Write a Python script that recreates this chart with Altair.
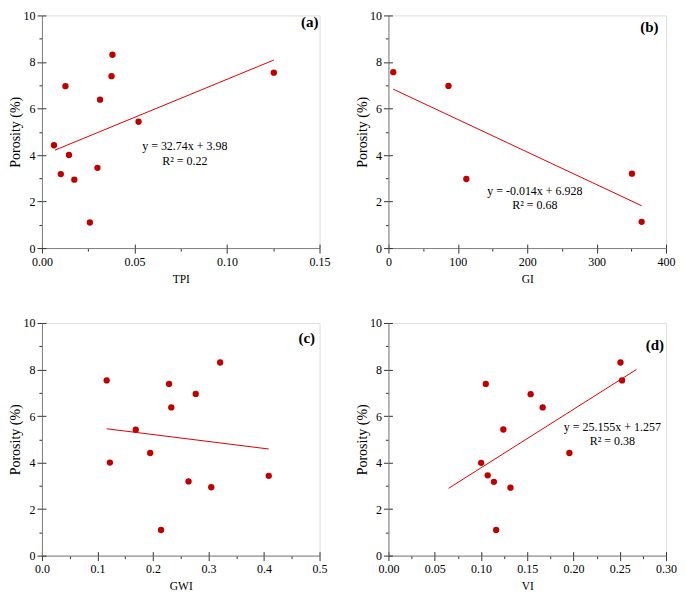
import altair as alt
import pandas as pd

FONT = "Liberation Serif"

# ---- data ----
tpi = [0.0065, 0.0127, 0.0102, 0.0146, 0.0175, 0.0259, 0.0300, 0.0314, 0.0376, 0.0381, 0.0522, 0.1253]
por_a = [4.42, 6.96, 3.18, 4.00, 2.94, 1.10, 3.45, 6.38, 7.39, 8.31, 5.43, 7.54]

gi = [7.0, 86.5, 112.3, 350.9, 364.9]
por_b = [7.56, 6.97, 2.97, 3.20, 1.13]

gwi = [0.1166, 0.1224, 0.169, 0.195, 0.2145, 0.229, 0.233, 0.264, 0.277, 0.305, 0.321, 0.4085]
por_c = [7.53, 4.00, 5.41, 4.41, 1.10, 7.38, 6.37, 3.19, 6.95, 2.94, 8.30, 3.43]

vi = [0.1002, 0.1052, 0.1073, 0.1140, 0.1164, 0.1242, 0.1319, 0.1537, 0.1667, 0.1956, 0.2508, 0.2525]
por_d = [3.99, 7.38, 3.45, 3.17, 1.10, 5.42, 2.92, 6.94, 6.37, 4.41, 8.30, 7.53]

fit_slope = [32.74, -0.014, -2.98, 25.155]
fit_intercept = [3.98, 6.928, 5.80, 1.257]
fit_x0 = [0.007, 7.0, 0.1166, 0.065]
fit_x1 = [0.1253, 365.0, 0.4085, 0.268]

eq_text = [["y = 32.74x + 3.98", "R² = 0.22"],
           ["y = -0.014x + 6.928", "R² = 0.68"],
           [],
           ["y = 25.155x + 1.257", "R² = 0.38"]]
eq_x = [0.0772, 211.0, 0.0, 0.242]
eq_y = [[4.38, 3.76], [2.46, 1.86], [], [5.53, 4.94]]

tags = ["(a)", "(b)", "(c)", "(d)"]
tag_x = [0.1447, 376.0, 0.477, 0.288]
tag_y = [9.71, 9.5, 9.34, 9.05]

x_names = ["TPI", "GI", "GWI", "VI"]
x_max = [0.15, 400, 0.5, 0.30]
x_major = [0.05, 100, 0.1, 0.05]
x_fmt = [".2f", "d", ".1f", ".2f"]

W, H = 278, 233


def ticks(maximum, major):
    n = int(round(maximum / major))
    return [round(i * major / 2, 6) for i in range(2 * n + 1)], [round(i * major, 6) for i in range(n + 1)]


def is_major(step):
    return f"abs(datum.value/{step} - round(datum.value/{step})) < 1e-6"


def main_axis(orient, values, step, fmt, title, label_pad, title_pad, title_size):
    return alt.Axis(
        orient=orient, values=values, format=fmt,
        labelExpr=f"{is_major(step)} ? datum.label : ''",
        tickSize={"condition": {"test": is_major(step), "value": 5}, "value": 3},
        tickColor="#333333", tickWidth=1,
        domainColor="#808080", domainWidth=1,
        labelFont=FONT, labelFontSize=12, labelColor="black", labelPadding=label_pad,
        labelOverlap=False, labelFlush=False,
        title=title, titleFont=FONT, titleFontSize=title_size, titleFontWeight="normal",
        titleColor="black", titlePadding=title_pad, grid=False,
    )


def inner_axis(orient, values):
    return alt.Axis(orient=orient, values=values, offset=-4, tickSize=4, tickColor="#333333",
                    domain=False, labels=False, title=None, grid=False)


def panel(i, xs, ys):
    xdom = alt.Scale(domain=[0, x_max[i]], nice=False, zero=False)
    ydom = alt.Scale(domain=[0, 10], nice=False)
    xall, xmaj = ticks(x_max[i], x_major[i])
    yall, ymaj = ticks(10, 2)

    pts = alt.Chart(pd.DataFrame({"x": xs, "y": ys})).mark_circle(
        size=40, color="#c00000", opacity=1
    ).encode(
        x=alt.X("x:Q", scale=xdom,
                axis=main_axis("bottom", xall, x_major[i], x_fmt[i], x_names[i], 3, 6, 11.5)),
        y=alt.Y("y:Q", scale=ydom,
                axis=main_axis("left", yall, 2, "d", "Porosity (%)", 2, 0, 14)),
    )

    line_df = pd.DataFrame({"x": [fit_x0[i], fit_x1[i]],
                            "slope": [fit_slope[i]] * 2,
                            "intercept": [fit_intercept[i]] * 2})
    line = alt.Chart(line_df).transform_calculate(
        fy="datum.slope * datum.x + datum.intercept"
    ).mark_line(color="#e00000", strokeWidth=1).encode(
        x=alt.X("x:Q", scale=xdom, axis=inner_axis("bottom", xmaj)),
        y=alt.Y("fy:Q", scale=ydom, axis=inner_axis("left", ymaj)),
    )

    layers = [pts, line]
    if eq_text[i]:
        eq_df = pd.DataFrame({"x": [eq_x[i]] * len(eq_text[i]), "y": eq_y[i], "t": eq_text[i]})
        layers.append(alt.Chart(eq_df).mark_text(
            font=FONT, fontSize=12, color="black", align="center", baseline="middle"
        ).encode(x=alt.X("x:Q", scale=xdom, axis=None),
                 y=alt.Y("y:Q", scale=ydom, axis=None), text="t:N"))

    tag_df = pd.DataFrame({"x": [tag_x[i]], "y": [tag_y[i]], "t": [tags[i]]})
    layers.append(alt.Chart(tag_df).mark_text(
        font=FONT, fontSize=15, fontWeight="bold", color="black", align="center", baseline="middle"
    ).encode(x=alt.X("x:Q", scale=xdom, axis=None),
             y=alt.Y("y:Q", scale=ydom, axis=None), text="t:N"))

    return alt.layer(*layers).resolve_axis(x="independent", y="independent").properties(width=W, height=H)


chart = alt.concat(
    panel(0, tpi, por_a), panel(1, gi, por_b), panel(2, gwi, por_c), panel(3, vi, por_d),
    columns=2, spacing={"row": 31, "column": 24},
).properties(padding=0).configure_view(stroke=None).configure(background="white")

chart.save("out.html", embed_options={"renderer": "svg", "actions": False})
